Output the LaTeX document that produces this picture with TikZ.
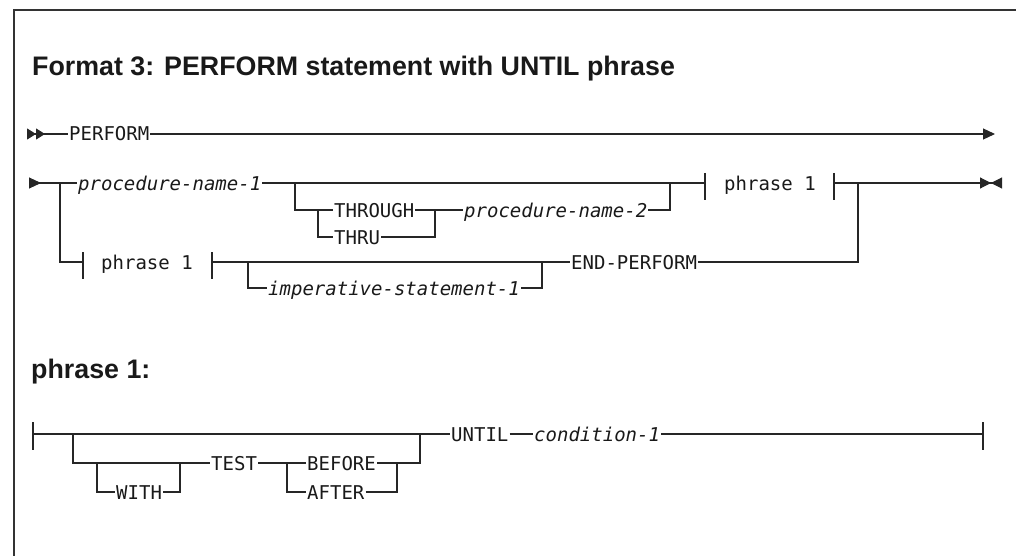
\documentclass[tikz,border=0pt]{standalone}
\usepackage{fontspec}
\setmonofont{DejaVu Sans Mono}
\newfontfamily\headfont{Liberation Sans}
\usetikzlibrary{arrows.meta}
\newcommand{\railfont}{\ttfamily\fontsize{19}{19}\selectfont}

\begin{document}
\begin{tikzpicture}[
    x=1pt, y=-1pt,
    rail/.style    = {line width=1.1pt, draw=black!85},
    railbar/.style = {line width=1.3pt, draw=black!85},
    boxline/.style = {line width=1.6pt, draw=black!80},
    kwtext/.style  = {font=\railfont, inner xsep=1pt, inner ysep=0pt,
                      text height=14pt, text depth=0pt, anchor=west, text=black!90},
    vartext/.style = {kwtext, font=\railfont\itshape},
    head/.style    = {font=\headfont\bfseries\fontsize{26.8}{27}\selectfont,
                      inner sep=0pt, anchor=base west, text=black!90},
]
\useasboundingbox (0,0) rectangle (1016,556);

%% ---- Frame ----
\draw[boxline] (14,556) -- (14,10) -- (1016,10);

%% ---- Headings ----
\node[head] (title) at (32,76) {Format 3: PERFORM statement with UNTIL phrase};
\node[head] (phhead) at (31,378) {phrase 1:};

%% ---- Row 1: PERFORM ----
\coordinate (r1s) at (27,134);
\node[kwtext] (perform) at (68,134) {PERFORM};
\coordinate (r1e) at (995,134);

\draw[rail, {Triangle[reversed, length=9pt, width=11pt]
             Triangle[reversed, length=9pt, width=11pt]}-] (r1s) -- (perform);
\draw[rail, -{Triangle[length=12pt, width=11pt]}] (perform) -- (r1e);

%% ---- Row 2: procedure-name-1 ... phrase 1 ----
\coordinate (r2s) at (29,183);
\coordinate (j1)  at (60,183);
\node[vartext] (proc1) at (77,183) {procedure-name-1};
\coordinate (o1)  at (295,183);
\coordinate (c1)  at (318,210);
\node[kwtext] (through) at (333,210) {THROUGH};
\node[kwtext] (thru)    at (333,237) {THRU};
\coordinate (c2)  at (435,210);
\node[vartext] (proc2) at (463,210) {procedure-name-2};
\coordinate (o2)  at (670,183);
\coordinate (b1)  at (705,183);
\node[kwtext] (ph1a) at (723,183) {phrase 1};
\coordinate (b2)  at (834,183);
\coordinate (j2)  at (858,183);
\coordinate (r2e) at (1002,183);

\draw[rail, {Triangle[reversed, length=12pt, width=11pt]}-] (r2s) -- (proc1);
\draw[rail] (proc1) -- (b1);
\draw[rail] (o1) |- (through);
\draw[rail] (c1) |- (thru);
\draw[rail] (through) -| (c2) |- (thru);
\draw[rail] (c2) -- (proc2);
\draw[rail] (proc2) -| (o2);
\draw[rail, -{Triangle[length=11pt, width=11pt] Triangle[reversed, length=11pt, width=11pt]}]
    (b2) -- (r2e);
\draw[railbar] (b1) ++(0,-10) -- ++(0,27);
\draw[railbar] (b2) ++(0,-10) -- ++(0,27);

%% ---- Row 3: phrase 1 ... END-PERFORM ----
\coordinate (b3)  at (83,262);
\node[kwtext] (ph1b) at (100,262) {phrase 1};
\coordinate (b4)  at (212,262);
\coordinate (o3)  at (248,262);
\node[vartext] (imp) at (267,288) {imperative-statement-1};
\coordinate (o4)  at (542,262);
\node[kwtext] (endp) at (570,262) {END-PERFORM};

\draw[rail] (j1) |- (b3);
\draw[rail] (b4) -- (endp);
\draw[rail] (o3) |- (imp);
\draw[rail] (imp) -| (o4);
\draw[rail] (endp) -| (j2);
\draw[railbar] (b3) ++(0,-10) -- ++(0,27);
\draw[railbar] (b4) ++(0,-10) -- ++(0,27);

%% ---- phrase 1 ----
\coordinate (r4s) at (33,434);
\coordinate (j3)  at (73,434);
\coordinate (w1)  at (97,463);
\node[kwtext] (with) at (115,492) {WITH};
\coordinate (w2)  at (180,463);
\node[kwtext] (test) at (210,463) {TEST};
\coordinate (t1)  at (287,463);
\node[kwtext] (before) at (306,463) {BEFORE};
\node[kwtext] (after)  at (306,492) {AFTER};
\coordinate (t2)  at (397,463);
\coordinate (j4)  at (420,434);
\node[kwtext] (until) at (450,434) {UNTIL};
\node[vartext] (cond) at (533,434) {condition-1};
\coordinate (r4e) at (983,434);

\draw[rail] (r4s) -- (until);
\draw[rail] (j3) |- (test);
\draw[rail] (w1) |- (with);
\draw[rail] (with) -| (w2);
\draw[rail] (test) -- (before);
\draw[rail] (t1) |- (after);
\draw[rail] (after) -| (t2);
\draw[rail] (before) -| (j4);
\draw[rail] (until) -- (cond);
\draw[rail] (cond) -- (r4e);
\draw[railbar] (r4s) ++(0,-12) -- ++(0,28);
\draw[railbar] (r4e) ++(0,-12) -- ++(0,28);

\end{tikzpicture}
\end{document}
